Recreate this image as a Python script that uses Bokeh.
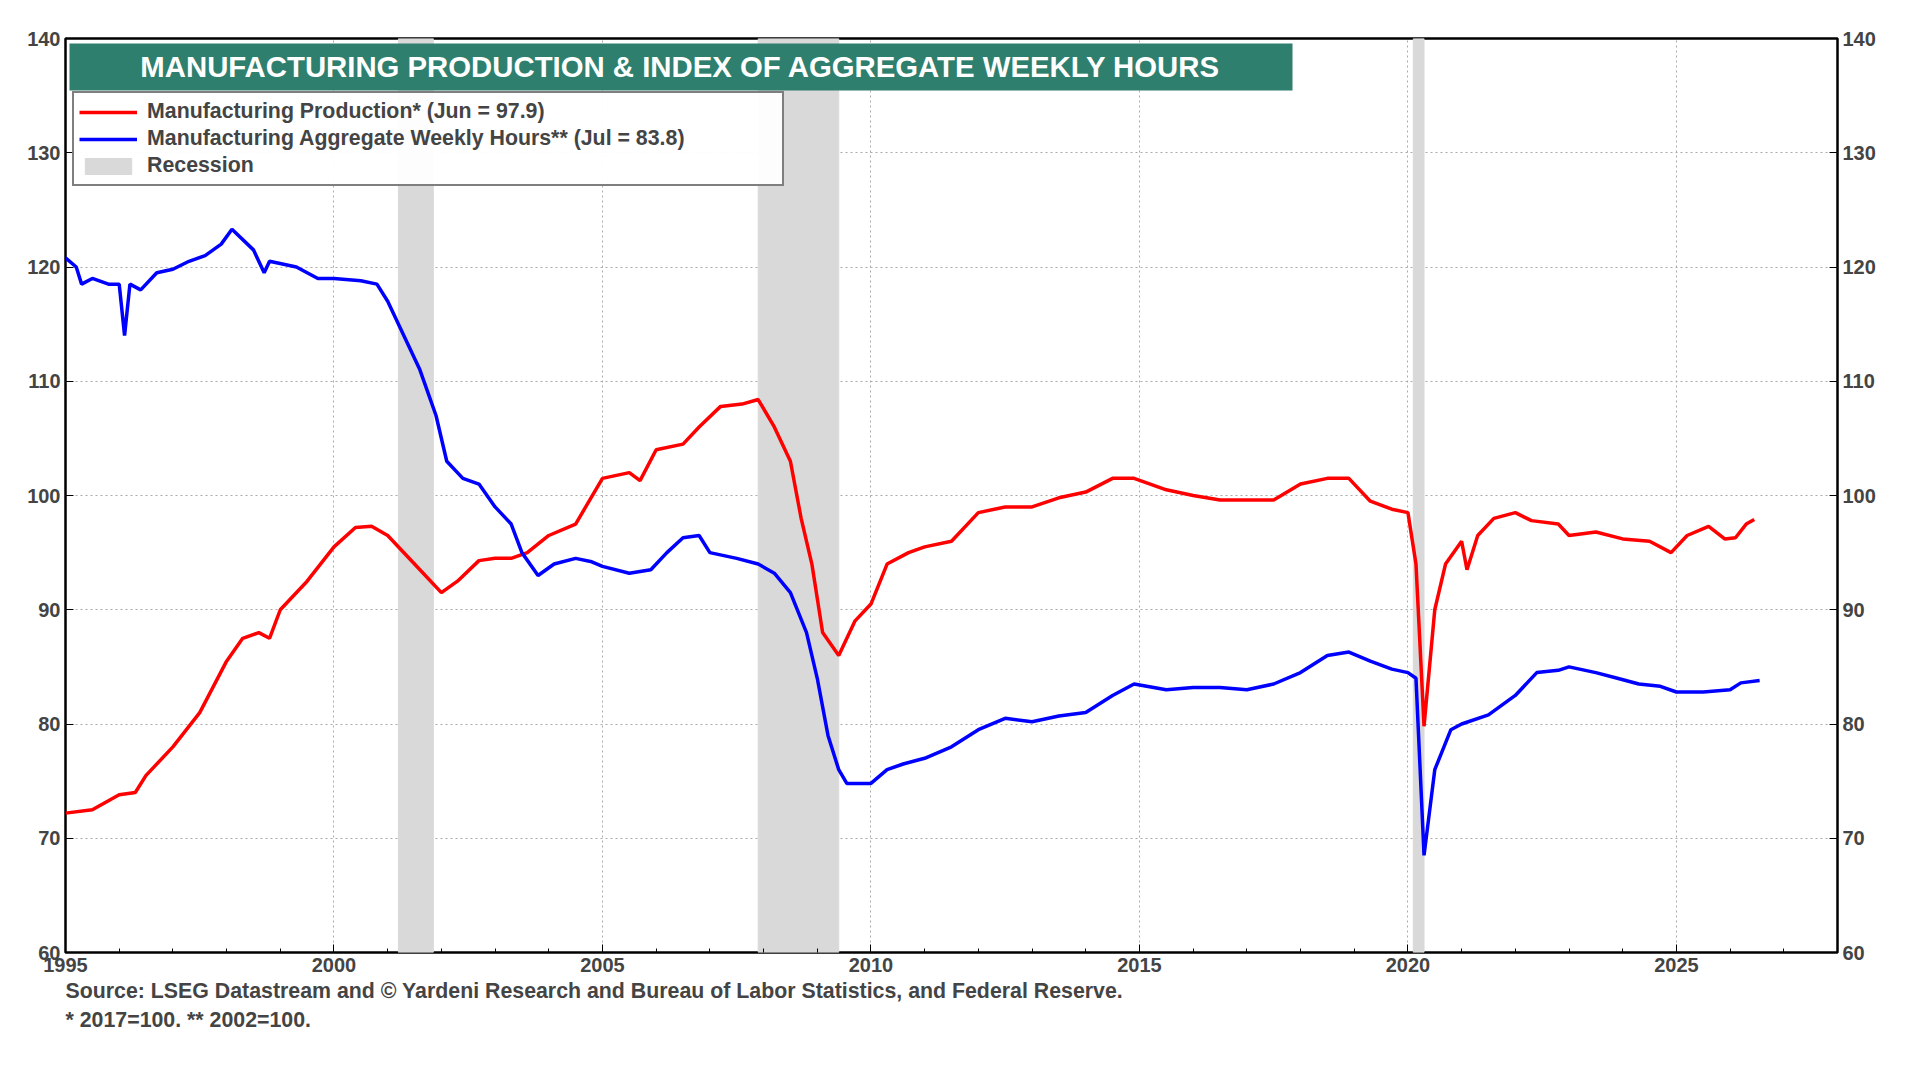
from bokeh.plotting import figure
from bokeh.models import LinearAxis, Range1d, Label, BoxAnnotation, Legend, LegendItem, FixedTicker, Title
from bokeh.embed import file_html
from bokeh.resources import INLINE

prod_t = [1995.0,1995.5,1996.0,1996.3,1996.5,1997.0,1997.5,1998.0,1998.3,1998.6,1998.8,1999.0,1999.5,2000.0,2000.4,2000.7,2001.0,2001.5,2002.0,2002.3,2002.7,2003.0,2003.3,2003.6,2004.0,2004.5,2005.0,2005.5,2005.7,2006.0,2006.5,2006.8,2007.2,2007.6,2007.9,2008.2,2008.5,2008.7,2008.9,2009.1,2009.4,2009.7,2010.0,2010.3,2010.7,2011.0,2011.5,2012.0,2012.5,2013.0,2013.5,2014.0,2014.5,2014.9,2015.5,2016.0,2016.5,2017.0,2017.5,2018.0,2018.5,2018.9,2019.3,2019.7,2020.0,2020.15,2020.3,2020.5,2020.7,2021.0,2021.1,2021.3,2021.6,2022.0,2022.3,2022.8,2023.0,2023.5,2024.0,2024.5,2024.9,2025.2,2025.6,2025.9,2026.1,2026.3,2026.45]
prod_v = [72.2,72.5,73.8,74.0,75.5,78,81,85.5,87.5,88,87.5,90,92.5,95.5,97.2,97.3,96.5,94,91.5,92.5,94.3,94.5,94.5,95,96.5,97.5,101.5,102,101.3,104,104.5,106,107.8,108,108.4,106,103,98,94,88,86,89,90.5,94,95,95.5,96,98.5,99,99,99.8,100.3,101.5,101.5,100.5,100,99.6,99.6,99.6,101,101.5,101.5,99.5,98.8,98.5,94,79.8,90,94,96,93.5,96.5,98,98.5,97.8,97.5,96.5,96.8,96.2,96,95,96.5,97.3,96.2,96.3,97.5,97.9]
hours_t = [1995.0,1995.2,1995.3,1995.5,1995.8,1996.0,1996.1,1996.2,1996.4,1996.7,1997.0,1997.3,1997.6,1997.9,1998.1,1998.5,1998.7,1998.8,1999.3,1999.7,2000.0,2000.5,2000.8,2001.0,2001.3,2001.6,2001.9,2002.1,2002.4,2002.7,2003.0,2003.3,2003.5,2003.8,2004.1,2004.5,2004.8,2005.0,2005.5,2005.9,2006.2,2006.5,2006.8,2007.0,2007.5,2007.9,2008.2,2008.5,2008.8,2009.0,2009.2,2009.4,2009.55,2010.0,2010.3,2010.6,2011.0,2011.5,2012.0,2012.5,2013.0,2013.5,2014.0,2014.5,2014.9,2015.5,2016.0,2016.5,2017.0,2017.5,2018.0,2018.5,2018.9,2019.3,2019.7,2020.0,2020.15,2020.3,2020.5,2020.8,2021.0,2021.5,2022.0,2022.4,2022.8,2023.0,2023.5,2023.9,2024.3,2024.7,2025.0,2025.5,2026.0,2026.2,2026.55]
hours_v = [120.8,120,118.5,119,118.5,118.5,114,118.5,118,119.5,119.8,120.5,121,122,123.3,121.5,119.5,120.5,120,119,119,118.8,118.5,117,114,111,107,103,101.5,101,99,97.5,95,93,94,94.5,94.2,93.8,93.2,93.5,95,96.3,96.5,95,94.5,94,93.2,91.5,88,84,79,76,74.8,74.8,76,76.5,77,78,79.5,80.5,80.2,80.7,81,82.5,83.5,83,83.2,83.2,83,83.5,84.5,86,86.3,85.5,84.8,84.5,84,68.5,76,79.5,80,80.8,82.5,84.5,84.7,85,84.5,84,83.5,83.3,82.8,82.8,83,83.6,83.8]
rec_start = [2001.2, 2007.9, 2020.1]
rec_end = [2001.85, 2009.4, 2020.3]

W, H = 1900, 1064
BL, BR, BT, BB = 65, 63, 38, 112
FH = H - BT - BB

p = figure(width=W, height=H, x_range=Range1d(1995, 2028), y_range=Range1d(60, 140),
           output_backend="svg", toolbar_location=None,
           min_border_left=BL, min_border_right=BR, min_border_top=BT, min_border_bottom=BB)
p.outline_line_color = "black"; p.outline_line_width = 2.5
r_rec = p.quad(left=rec_start, right=rec_end, bottom=60, top=140, color="#d9d9d9")
r_p = p.line(prod_t, prod_v, color="#ff0000", line_width=3.5)
r_h = p.line(hours_t, hours_v, color="#0000ff", line_width=3.5)

p.xaxis.ticker = FixedTicker(ticks=list(range(1995, 2030, 5)), minor_ticks=list(range(1995, 2029)))
p.yaxis.ticker = FixedTicker(ticks=list(range(60, 141, 10)))
p.add_layout(LinearAxis(ticker=FixedTicker(ticks=list(range(60, 141, 10)))), "right")
for ax in p.axis:
    ax.major_label_text_font = "Arial"
    ax.major_label_text_font_style = "bold"
    ax.major_label_text_font_size = "15pt"
    ax.axis_line_color = None
    ax.major_tick_in = 8; ax.major_tick_out = 0
    ax.minor_tick_in = 4; ax.minor_tick_out = 0
p.xgrid.ticker = FixedTicker(ticks=list(range(1995, 2030, 5)))
for g in (p.xgrid, p.ygrid):
    g.grid_line_dash = "2 3"; g.grid_line_color = "#aaaaaa"

p.add_layout(BoxAnnotation(left=4, right=1227, top=FH - 5, bottom=FH - 52, left_units="screen", right_units="screen",
                           top_units="screen", bottom_units="screen", fill_color="#2e7f6e", fill_alpha=1, line_color=None))
p.add_layout(Label(x=615, y=FH - 28, x_units="screen", y_units="screen",
                   text="MANUFACTURING PRODUCTION & INDEX OF AGGREGATE WEEKLY HOURS",
                   text_color="white", text_font="Arial", text_font_style="bold", text_font_size="22pt",
                   text_align="center", text_baseline="middle"))

leg = Legend(items=[LegendItem(label="Manufacturing Production* (Jun = 97.9)", renderers=[r_p]),
                    LegendItem(label="Manufacturing Aggregate Weekly Hours** (Jul = 83.8)", renderers=[r_h]),
                    LegendItem(label="Recession", renderers=[r_rec])],
             location=(7, FH - 148), label_text_font="Arial", label_text_font_style="bold", label_text_font_size="16pt",
             border_line_color="black", border_line_width=2.5, spacing=0, padding=5, margin=0,
             label_height=27, glyph_height=20, glyph_width=58, label_standoff=10)
leg.label_width = 630
p.add_layout(leg)

t2 = Title(text="* 2017=100.    ** 2002=100.", text_font="Arial", text_font_style="bold",
           text_font_size="16pt", align="left", standoff=2)
t1 = Title(text="Source: LSEG Datastream and © Yardeni Research and Bureau of Labor Statistics, and Federal Reserve.",
           text_font="Arial", text_font_style="bold", text_font_size="16pt", align="left", standoff=4)
p.add_layout(t1, "below")
p.add_layout(t2, "below")

open("out.html", "w").write(file_html(p, INLINE))
